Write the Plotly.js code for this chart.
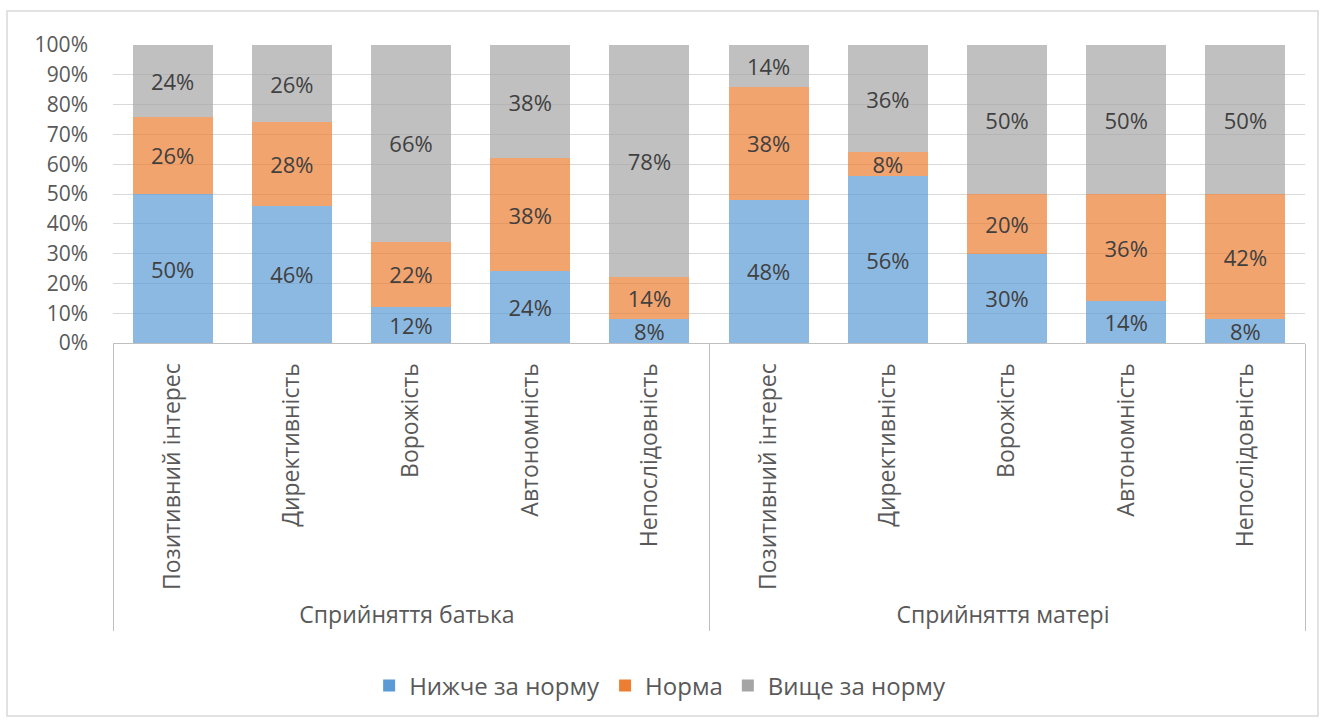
<!DOCTYPE html>
<html>
<head>
<meta charset="utf-8">
<script src="https://cdn.plot.ly/plotly-3.0.1.min.js"></script>
<style>html,body{margin:0;padding:0;background:#fff;}#chart{width:1325px;height:721px;}</style>
</head>
<body>
<div id="chart"></div>
<script>
const groups = ["Сприйняття батька","Сприйняття батька","Сприйняття батька","Сприйняття батька","Сприйняття батька",
                "Сприйняття матері","Сприйняття матері","Сприйняття матері","Сприйняття матері","Сприйняття матері"];
const categories = ["Позитивний інтерес","Директивність","Ворожість","Автономність","Непослідовність",
                    "Позитивний інтерес","Директивність","Ворожість","Автономність","Непослідовність"];
const below = [50, 46, 12, 24, 8, 48, 56, 30, 14, 8];
const norm  = [26, 28, 22, 38, 14, 38, 8, 20, 36, 42];
const above = [24, 26, 66, 38, 78, 14, 36, 50, 50, 50];
const seriesNames = ["Нижче за норму", "Норма", "Вище за норму"];
const yTicks = [0,10,20,30,40,50,60,70,80,90,100];
const yTickLabels = ["0%","10%","20%","30%","40%","50%","60%","70%","80%","90%","100%"];

const FONT = "'Open Sans', sans-serif";
const colors = ["#5B9BD5", "#ED7D31", "#A5A5A5"];
const vals = [below, norm, above];

const traces = vals.map((v, i) => ({
  type: "bar",
  name: seriesNames[i],
  x: [groups, categories],
  y: v,
  text: v.map(d => d + "%"),
  textposition: "inside",
  insidetextanchor: "middle",
  constraintext: "none",
  textfont: {family: FONT, size: 22, color: "#404040"},
  marker: {color: colors[i], opacity: 0.7, line: {width: 0}},
  hoverinfo: "skip"
}));

const layout = {
  width: 1325, height: 721,
  margin: {l: 113, r: 20, t: 45, b: 378},
  barmode: "stack",
  bargap: 0.33,
  paper_bgcolor: "#fff",
  plot_bgcolor: "#fff",
  font: {family: FONT, color: "#595959"},
  showlegend: true,
  legend: {orientation: "h", traceorder: "normal", x: 0.459, xanchor: "center", y: -1.151, yanchor: "middle",
           font: {family: FONT, size: 24, color: "#595959"}, itemwidth: 30},
  xaxis: {
    type: "multicategory",
    tickangle: -90,
    tickfont: {family: FONT, size: 23, color: "#595959"},
    showdividers: true, dividercolor: "#BFBFBF", dividerwidth: 1,
    showline: true, linecolor: "#BFBFBF", linewidth: 1,
    ticks: "", showgrid: false, zeroline: false,
    ticklabelstandoff: 10
  },
  yaxis: {
    range: [0, 100],
    tickvals: yTicks,
    ticktext: yTickLabels,
    tickfont: {family: FONT, size: 21, color: "#595959"},
    showgrid: true, gridcolor: "#D9D9D9", gridwidth: 1,
    zeroline: false, showline: false, ticks: "",
    ticklabelstandoff: 24
  },
  shapes: [
    {type: "rect", xref: "paper", yref: "paper", x0: -0.0889, x1: 1.0109, y0: -1.252, y1: 1.114,
     line: {color: "#D9D9D9", width: 1.5}, fillcolor: "rgba(0,0,0,0)", layer: "below"}
  ]
};

Plotly.newPlot("chart", traces, layout, {displayModeBar: false, staticPlot: true});
</script>
</body>
</html>
